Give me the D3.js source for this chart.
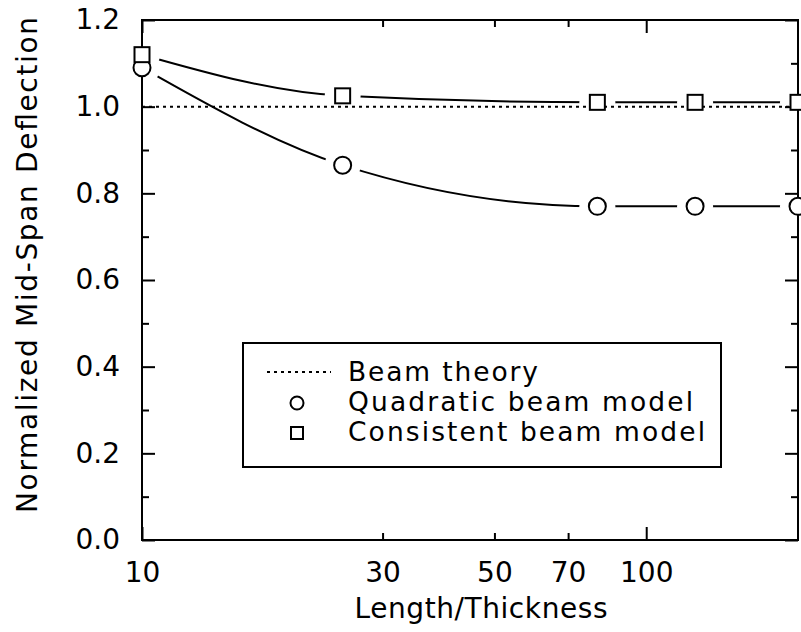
<!DOCTYPE html>
<html>
<head>
<meta charset="utf-8">
<script src="https://cdn.jsdelivr.net/npm/d3@7"></script>
<style>
  html, body { margin: 0; padding: 0; background: #fff; }
  svg { display: block; }
  text { font-family: "DejaVu Sans", sans-serif; fill: #000; }
</style>
</head>
<body>
<svg id="chart" width="801" height="632"></svg>
<script>
// ---------------- data ----------------
const lengthThickness = [10, 25, 80, 125, 200];
const quadraticBeam   = [1.09, 0.865, 0.77, 0.77, 0.77];
const consistentBeam  = [1.12, 1.025, 1.01, 1.01, 1.01];
const beamTheory      = 1.0;
const xTickLabels     = [10, 30, 50, 70, 100];
const xMajorTicks     = [10, 100];
const xMinorTicks     = [30, 50, 70];
const yMajorTicks     = [0.0, 0.2, 0.4, 0.6, 0.8, 1.0, 1.2];
const yMinorTicks     = [0.1, 0.3, 0.5, 0.7, 0.9, 1.1];
const legendLabels    = ["Beam theory", "Quadratic beam model", "Consistent beam model"];

// ---------------- layout ----------------
const L = 142, R = 798, T = 20, B = 540;
const svg = d3.select("#chart");

const x = d3.scaleLog().domain([10, 200]).range([L, R]);
const y = d3.scaleLinear().domain([0, 1.2]).range([B, T]);

const fmtY = d3.format(".1f");

// left axis: labels + major ticks (inward)
const gL = svg.append("g").attr("transform", `translate(${L},0)`)
  .call(d3.axisLeft(y).tickValues(yMajorTicks).tickFormat(fmtY)
        .tickSizeInner(-13).tickSizeOuter(0).tickPadding(22));
gL.append("g").call(d3.axisLeft(y).tickValues(yMinorTicks).tickFormat("")
        .tickSizeInner(-7).tickSizeOuter(0));
// right axis
const gR = svg.append("g").attr("transform", `translate(${R},0)`)
  .call(d3.axisRight(y).tickValues(yMajorTicks).tickFormat("")
        .tickSizeInner(-13).tickSizeOuter(0));
gR.append("g").call(d3.axisRight(y).tickValues(yMinorTicks).tickFormat("")
        .tickSizeInner(-7).tickSizeOuter(0));
// bottom axis
const gB = svg.append("g").attr("transform", `translate(0,${B})`)
  .call(d3.axisBottom(x).tickValues(xTickLabels).tickFormat(d3.format("d"))
        .tickSizeInner(0).tickSizeOuter(0).tickPadding(22));
gB.append("g").call(d3.axisBottom(x).tickValues(xMajorTicks).tickFormat("")
        .tickSizeInner(-13).tickSizeOuter(0));
gB.append("g").call(d3.axisBottom(x).tickValues(xMinorTicks).tickFormat("")
        .tickSizeInner(-7).tickSizeOuter(0));
// top axis
const gT = svg.append("g").attr("transform", `translate(0,${T})`);
gT.append("g").call(d3.axisTop(x).tickValues(xMajorTicks).tickFormat("")
        .tickSizeInner(-13).tickSizeOuter(0));
gT.append("g").call(d3.axisTop(x).tickValues(xMinorTicks).tickFormat("")
        .tickSizeInner(-7).tickSizeOuter(0));

svg.selectAll(".domain").remove();
svg.selectAll(".tick line").attr("stroke", "#000").attr("stroke-width", 2);
svg.selectAll(".tick text").attr("font-size", 28).attr("font-family", "DejaVu Sans, sans-serif").attr("fill", "#000");

// frame
svg.append("rect").attr("x", L).attr("y", T).attr("width", R - L).attr("height", B - T)
  .attr("fill", "none").attr("stroke", "#000").attr("stroke-width", 2);

// beam theory dotted line
svg.append("line")
  .attr("x1", x(10)).attr("x2", x(200)).attr("y1", y(beamTheory)).attr("y2", y(beamTheory))
  .attr("stroke", "#000").attr("stroke-width", 2).attr("stroke-dasharray", "3,4");

// masks for gaps around markers
const defs = svg.append("defs");
function makeMask(id, vals) {
  const m = defs.append("mask").attr("id", id).attr("maskUnits", "userSpaceOnUse")
    .attr("x", 0).attr("y", 0).attr("width", 801).attr("height", 632);
  m.append("rect").attr("x", 0).attr("y", 0).attr("width", 801).attr("height", 632).attr("fill", "#fff");
  m.selectAll("circle").data(lengthThickness).join("circle")
    .attr("cx", d => x(d)).attr("cy", (d, i) => y(vals[i])).attr("r", 18).attr("fill", "#000");
}
makeMask("mQ", quadraticBeam);
makeMask("mC", consistentBeam);

const line = vals => d3.line().curve(d3.curveMonotoneX)
  .x(d => x(d)).y((d, i) => y(vals[i]))(lengthThickness);

svg.append("path").attr("d", line(quadraticBeam)).attr("fill", "none")
  .attr("stroke", "#000").attr("stroke-width", 2).attr("mask", "url(#mQ)");
svg.append("path").attr("d", line(consistentBeam)).attr("fill", "none")
  .attr("stroke", "#000").attr("stroke-width", 2).attr("mask", "url(#mC)");

// markers
svg.selectAll(".qpt").data(lengthThickness).join("circle").attr("class", "qpt")
  .attr("cx", d => x(d)).attr("cy", (d, i) => y(quadraticBeam[i])).attr("r", 8.5)
  .attr("fill", "#fff").attr("stroke", "#000").attr("stroke-width", 2);
svg.selectAll(".cpt").data(lengthThickness).join("rect").attr("class", "cpt")
  .attr("x", d => x(d) - 7.5).attr("y", (d, i) => y(consistentBeam[i]) - 7.5)
  .attr("width", 15).attr("height", 15)
  .attr("fill", "#fff").attr("stroke", "#000").attr("stroke-width", 2);

// legend
const lg = svg.append("g");
lg.append("rect").attr("x", 243).attr("y", 343).attr("width", 478).attr("height", 124)
  .attr("fill", "#fff").attr("stroke", "#000").attr("stroke-width", 2);
const rowY = [381, 411, 441];
const legendWidths = [190, 345, 357];
lg.selectAll("text").data(legendLabels).join("text")
  .attr("x", 348).attr("y", (d, i) => rowY[i]).attr("font-size", 26.5)
  .attr("textLength", (d, i) => legendWidths[i]).attr("lengthAdjust", "spacing")
  .text(d => d);
lg.append("line").attr("x1", 267).attr("x2", 331).attr("y1", rowY[0] - 9).attr("y2", rowY[0] - 9)
  .attr("stroke", "#000").attr("stroke-width", 2).attr("stroke-dasharray", "3,4");
lg.append("circle").attr("cx", 297).attr("cy", rowY[1] - 8).attr("r", 6.5)
  .attr("fill", "#fff").attr("stroke", "#000").attr("stroke-width", 2);
lg.append("rect").attr("x", 291).attr("y", rowY[2] - 14).attr("width", 12).attr("height", 12)
  .attr("fill", "#fff").attr("stroke", "#000").attr("stroke-width", 2);

// axis titles
svg.append("text").attr("x", 481).attr("y", 618).attr("text-anchor", "middle")
  .attr("font-size", 28).attr("textLength", 253).attr("lengthAdjust", "spacing")
  .text("Length/Thickness");
svg.append("text").attr("transform", "rotate(-90)")
  .attr("x", -265).attr("y", 37).attr("text-anchor", "middle")
  .attr("font-size", 28).attr("textLength", 496).attr("lengthAdjust", "spacing")
  .text("Normalized Mid-Span Deflection");
</script>
</body>
</html>
